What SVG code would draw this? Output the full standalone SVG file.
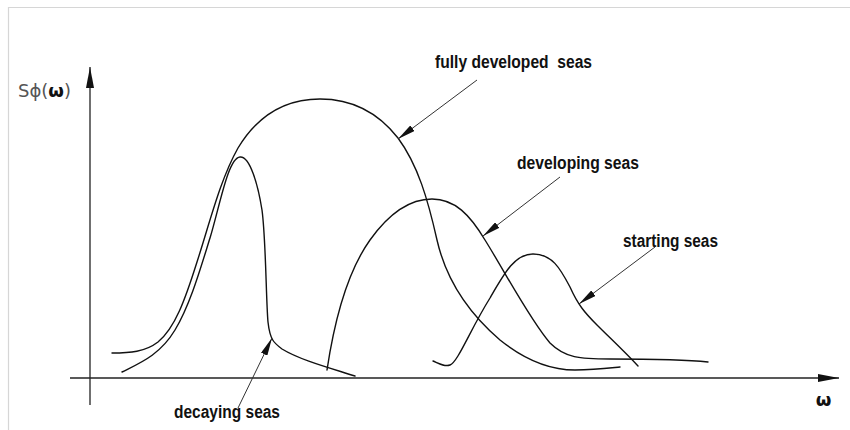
<svg xmlns="http://www.w3.org/2000/svg" width="850" height="430" viewBox="0 0 850 430">
  <style>
    .frame { stroke: #d6d6d6; stroke-width: 1.2; fill: none; }
    .axis { stroke: #222; stroke-width: 1.3; fill: none; }
    .curve { stroke: #111; stroke-width: 1.4; fill: none; stroke-linecap: round; }
    .leader { stroke: #333; stroke-width: 1; fill: none; }
    .lbl { font-family: "Liberation Sans", Arial, sans-serif; font-weight: bold; font-size: 18px; fill: #111; }
    .axlbl { font-family: "DejaVu Sans", sans-serif; font-size: 18px; fill: #555; }
    .bold { font-weight: bold; fill: #111; }
  </style>
  <defs>
    <marker id="axisHead" viewBox="0 0 21 8" refX="21" refY="4" markerWidth="21" markerHeight="8" markerUnits="userSpaceOnUse" orient="auto">
      <path d="M0,0 L21,4 L0,8 Z" fill="#111"/>
    </marker>
    <marker id="leaderHead" viewBox="0 0 18 7" refX="18" refY="3.5" markerWidth="18" markerHeight="7" markerUnits="userSpaceOnUse" orient="auto">
      <path d="M0,0 L18,3.5 L0,7 Z" fill="#111"/>
    </marker>
  </defs>

  <rect width="850" height="430" fill="#fff"/>
  <path class="frame" d="M8.5,430 L8.5,7.5 L850,7.5"/>

  <g id="axes">
    <path class="axis" d="M90,405 L90,67" marker-end="url(#axisHead)"/>
    <path class="axis" d="M70,378 L839,378" marker-end="url(#axisHead)"/>
    <text class="axlbl" x="18" y="97">Sϕ(<tspan class="bold">ω</tspan>)</text>
    <text class="axlbl bold" x="823.5" y="406" text-anchor="middle" font-size="16">ω</text>
  </g>

  <g id="fully-developed-seas">
    <path class="curve" d="M112,353 C130,353 145,352 158,342 C175,328 185,300 197,262 C210,222 220,180 238,148 C258,115 285,99 320,99 C355,99 380,115 398,138 C418,165 428,200 437,240 C445,275 465,310 500,340 C525,360 550,370 575,370 C595,370 610,368 620,367"/>
    <text class="lbl" x="435" y="68" textLength="157" lengthAdjust="spacingAndGlyphs" xml:space="preserve">fully developed  seas</text>
  </g>

  <g id="decaying-seas">
    <path class="curve" d="M122,372 C140,363 160,355 175,330 C190,305 200,270 210,238 C220,205 228,158 240,157 C250,156 258,185 262,210 C266,240 266,300 268,322 C270,340 274,343 282,349 C300,360 330,368 355,376"/>
    <text class="lbl" x="174" y="418" textLength="106" lengthAdjust="spacingAndGlyphs">decaying seas</text>
  </g>

  <g id="developing-seas">
    <path class="curve" d="M327,370 C333,330 345,275 370,240 C390,212 410,199 432,199 C455,199 470,215 485,240 C505,272 530,320 550,343 C565,358 580,359 610,359 C650,359 690,360 708,362"/>
    <text class="lbl" x="517" y="169" textLength="122" lengthAdjust="spacingAndGlyphs">developing seas</text>
  </g>

  <g id="starting-seas">
    <path class="curve" d="M433,361 C440,364 445,367 450,365 C458,362 470,330 490,298 C505,272 515,254 533,254 C552,254 560,268 570,287 C578,305 585,313 597,325 C610,338 625,352 638,366"/>
    <text class="lbl" x="623" y="247" textLength="95" lengthAdjust="spacingAndGlyphs">starting seas</text>
  </g>

  <g id="connectors">
    <path class="leader" d="M477,80 L398,139" marker-end="url(#leaderHead)"/>
    <path class="leader" d="M560,177 L483,236" marker-end="url(#leaderHead)"/>
    <path class="leader" d="M655,247 L579,304" marker-end="url(#leaderHead)"/>
    <path class="leader" d="M238,408 L272,338" marker-end="url(#leaderHead)"/>
  </g>
</svg>
